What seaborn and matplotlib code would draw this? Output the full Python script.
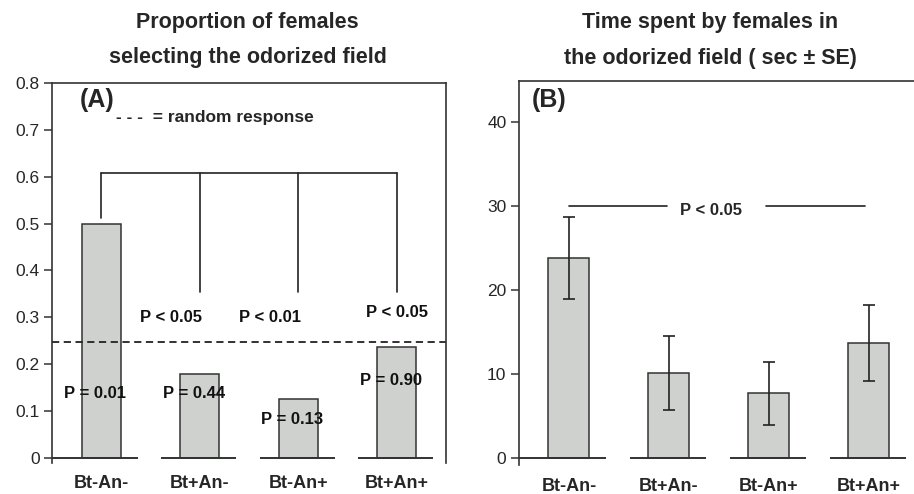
import numpy as np
import pandas as pd
import seaborn as sns
import matplotlib
matplotlib.use("Agg")
import matplotlib.pyplot as plt

# data
groups = ['Bt-An-', 'Bt+An-', 'Bt-An+', 'Bt+An+']
proportion = [0.50, 0.18, 0.125, 0.237]
p_binom = ['P = 0.01', 'P = 0.44', 'P = 0.13', 'P = 0.90']
p_binom_y = [0.138, 0.138, 0.081, 0.166]
p_pair = ['P < 0.05', 'P < 0.01', 'P < 0.05']
p_pair_y = [0.30, 0.30, 0.31]
random_level = 0.25

time_mean = [23.8, 10.15, 7.75, 13.75]
time_se = [4.9, 4.35, 3.75, 4.55]

sns.set_style("white")
plt.rcParams['font.family'] = ['Liberation Sans', 'DejaVu Sans']

bar_color = '#cfd1cf'
edge = '#333333'
title_size = 15.5

fig = plt.figure(figsize=(9.14, 4.94), dpi=100)
axA = fig.add_axes([0.0569, 0.0628, 0.431, 0.769])
axB = fig.add_axes([0.5678, 0.0587, 0.4376, 0.7773])

dfA = pd.DataFrame({'group': groups, 'value': proportion})
dfB = pd.DataFrame({'group': groups, 'value': time_mean, 'se': time_se})


def style_axis(ax, ymin, ymax, yticks, right=True):
    ax.set_xlim(-0.5, 3.5)
    ax.set_ylim(ymin, ymax)
    ax.set_yticks(yticks)
    ax.set_xlabel('')
    ax.set_ylabel('')
    ax.set_xticks(range(len(groups)))
    ax.set_xticklabels(groups, fontsize=13, fontweight='bold')
    ax.tick_params(axis='x', length=0, pad=9)
    ax.tick_params(axis='y', length=6, width=1.1, labelsize=12.5, pad=3,
                   direction='out', left=True, color=edge)
    ax.spines['bottom'].set_visible(False)
    ax.spines['right'].set_visible(right)
    for s in ['left', 'top', 'right']:
        ax.spines[s].set_linewidth(1.2)
        ax.spines[s].set_color(edge)
    # broken baseline under each bar
    for i in range(len(groups)):
        x0 = -0.5 if i == 0 else i - 0.39
        ax.plot([x0, i + 0.37], [0, 0], color=edge, lw=1.4,
                solid_capstyle='butt', clip_on=False)


# (A) proportion of females
sns.barplot(data=dfA, x='group', y='value', ax=axA, color=bar_color,
            width=0.4, edgecolor=edge, linewidth=1.1, errorbar=None,
            saturation=1)
style_axis(axA, -0.011, 0.8, np.arange(0, 0.81, 0.1))
axA.set_yticklabels(['0'] + [f'{v:.1f}' for v in np.arange(0.1, 0.81, 0.1)])
axA.axhline(random_level - 0.003, color='#222222', lw=1.3, ls=(0, (4, 2.5)))

# bracket comparing Bt-An- with the others
top = 0.608
axA.plot([0, 3], [top, top], color='#222222', lw=1.2)
axA.plot([0, 0], [top, 0.512], color='#222222', lw=1.2)
for i in range(1, 4):
    axA.plot([i, i], [top, 0.354], color='#222222', lw=1.2)

for i, (txt, y) in enumerate(zip(p_binom, p_binom_y)):
    axA.text(i - 0.06, y, txt, ha='center', va='center', fontsize=12,
             fontweight='bold', color='#111111')
for i, (txt, y) in enumerate(zip(p_pair, p_pair_y), start=1):
    axA.text(i - 0.29 if i < 3 else i, y, txt, ha='center', va='center',
             fontsize=12, fontweight='bold', color='#111111')

axA.text(-0.22, 0.763, '(A)', ha='left', va='center', fontsize=18,
         fontweight='bold')
axA.text(0.15, 0.726, '- - -  = random response', ha='left', va='center',
         fontsize=12.5, fontweight='bold')

# (B) time spent in odorized field
sns.barplot(data=dfB, x='group', y='value', ax=axB, color=bar_color,
            width=0.41, edgecolor=edge, linewidth=1.1, errorbar=None,
            saturation=1)
axB.errorbar(range(len(groups)), dfB['value'], yerr=dfB['se'], fmt='none',
             ecolor='#222222', elinewidth=1.2, capsize=4, capthick=1.2)
style_axis(axB, -0.8, 44.9, [0, 10, 20, 30, 40], right=False)

axB.plot([0, 0.98], [30, 30], color='#222222', lw=1.2)
axB.plot([1.97, 2.96], [30, 30], color='#222222', lw=1.2)
axB.text(1.42, 29.5, 'P < 0.05', ha='center', va='center', fontsize=12,
         fontweight='bold')
axB.text(-0.2, 42.6, '(B)', ha='center', va='center', fontsize=18,
         fontweight='bold')

# panel titles
fig.text(0.271, 0.943, 'Proportion of females', ha='center', va='baseline',
         fontsize=title_size, fontweight='bold')
fig.text(0.271, 0.872, 'selecting the odorized field', ha='center',
         va='baseline', fontsize=title_size, fontweight='bold')
fig.text(0.777, 0.943, 'Time spent by females in', ha='center',
         va='baseline', fontsize=title_size, fontweight='bold')
fig.text(0.777, 0.870, 'the odorized field ( sec \u00b1 SE)', ha='center',
         va='baseline', fontsize=title_size, fontweight='bold')

fig.savefig('out.png', dpi=100)
